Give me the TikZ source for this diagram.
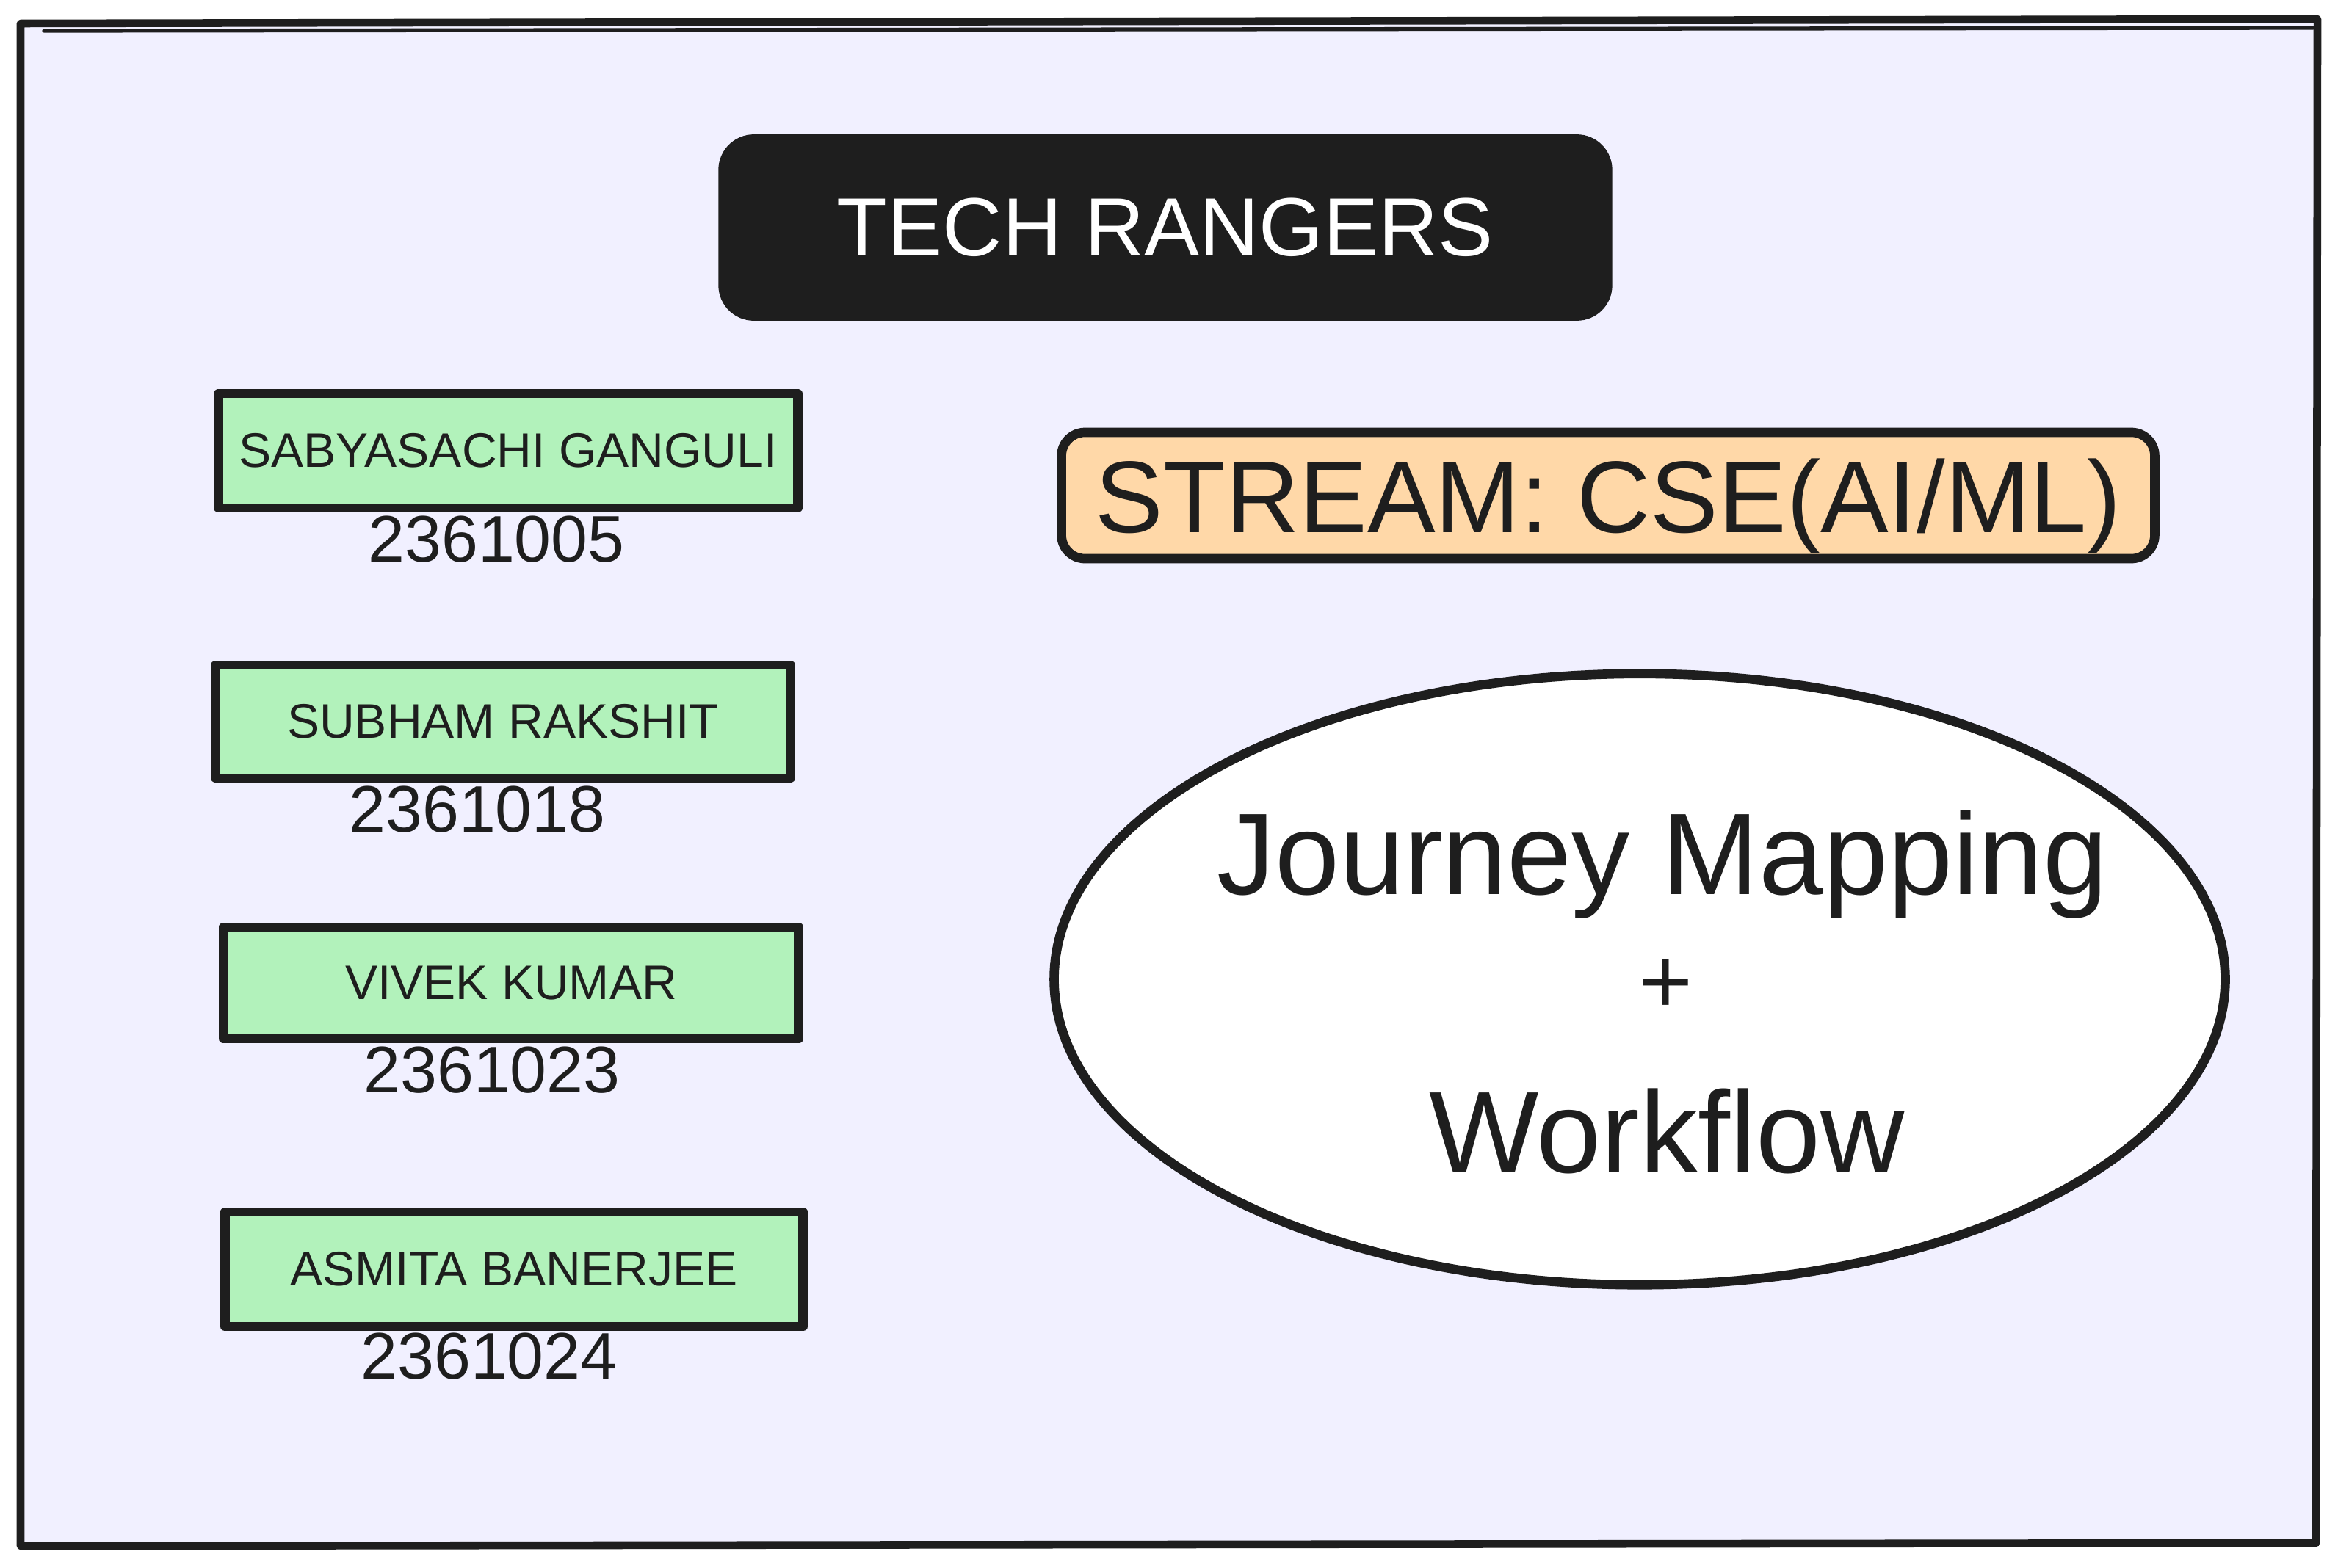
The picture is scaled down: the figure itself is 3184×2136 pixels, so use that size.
\documentclass[tikz,border=0pt]{standalone}
\usepackage{fontspec}
\setmainfont{Liberation Sans}
\usetikzlibrary{shapes.geometric}
\definecolor{ink}{HTML}{1E1E1E}
\definecolor{lav}{HTML}{F1F0FF}
\definecolor{mint}{HTML}{B2F2BB}
\definecolor{peach}{HTML}{FFD8A8}
\tikzset{
  outline/.style={draw=ink, line width=3.6pt, line join=round, line cap=round},
  titlebox/.style={outline, fill=ink, rounded corners=0.42cm, text=white, inner sep=0pt,
    font=\fontsize{32}{38}\selectfont},
  namebox/.style={outline, fill=mint, inner sep=0pt, text=ink, font=\fontsize{18.8}{22}\selectfont},
  idtext/.style={text=ink, inner sep=0pt, font=\fontsize{25.5}{30}\selectfont},
  streambox/.style={outline, fill=peach, rounded corners=0.32cm, inner sep=0pt, text=ink,
    text depth=0pt, font=\fontsize{39.5}{46}\selectfont},
  bubble/.style={outline, ellipse, fill=white, inner sep=0pt},
  bubbletext/.style={text=ink, inner sep=0pt, font=\fontsize{45}{54}\selectfont},
}
\begin{document}
\begin{tikzpicture}[x=0.01cm, y=-0.01cm]
\useasboundingbox (0,0) rectangle (3184,2136);
\fill[white] (0,0) rectangle (3184,2136);
% outer frame
\draw[outline, line width=3pt, fill=lav] (28,32) -- (3156,26) -- (3154,2102) -- (28,2106) -- cycle;
\draw[draw=ink, line width=1.5pt, line cap=round] (60,42) -- (3150,38);
% title
\node[titlebox, minimum width=12.04cm, minimum height=2.41cm] (title) at (1587,310) {TECH RANGERS};
% names
\node[namebox, minimum width=7.88cm, minimum height=1.56cm] (g1) at (692,614) {SABYASACHI GANGULI};
\node[idtext] (n1) at (676,735) {2361005};
\node[namebox, minimum width=7.82cm, minimum height=1.54cm] (g2) at (685,983) {SUBHAM RAKSHIT};
\node[idtext] (n2) at (650,1103) {2361018};
\node[namebox, minimum width=7.83cm, minimum height=1.52cm] (g3) at (696,1339) {VIVEK KUMAR};
\node[idtext] (n3) at (670,1458) {2361023};
\node[namebox, minimum width=7.87cm, minimum height=1.56cm] (g4) at (700,1729) {ASMITA BANERJEE};
\node[idtext] (n4) at (666,1848) {2361024};
% stream
\node[streambox, minimum width=14.88cm, minimum height=1.72cm] (stream) at (2190,675) {STREAM: CSE(AI/ML)};
% ellipse
\node[bubble, minimum width=15.94cm, minimum height=8.32cm] (oval) at (2233,1334) {};
\node[bubbletext] (j) at (2264,1178) {Journey Mapping};
\node[bubbletext, font=\fontsize{36}{40}\selectfont] (plus) at (2268,1344) {+};
\node[bubbletext] (w) at (2270,1541) {Workflow};
\end{tikzpicture}
\end{document}
